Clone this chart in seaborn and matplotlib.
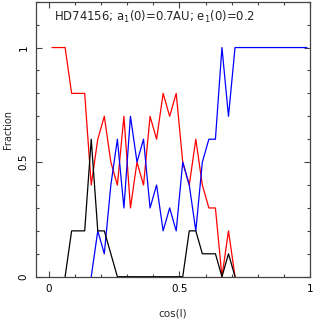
import numpy as np
import pandas as pd
import seaborn as sns
import matplotlib.pyplot as plt
from matplotlib.ticker import MultipleLocator

nan = np.nan

# bin centres in cos(I), 40 bins of width 0.025
cos_i = [0.0125 + 0.025 * k for k in range(40)]

# fraction of runs in each outcome (red / blue / black)
red = [1.0, 1.0, 1.0, 0.8, 0.8, 0.8, 0.4, 0.6, 0.7, 0.5,
       0.4, 0.7, 0.3, 0.5, 0.4, 0.7, 0.6, 0.8, 0.7, 0.8,
       0.5, 0.4, 0.6, 0.4, 0.3, 0.3, 0.0, 0.2, 0.0, nan,
       nan, nan, nan, nan, nan, nan, nan, nan, nan, nan]
blue = [nan, nan, nan, nan, nan, nan, 0.0, 0.2, 0.1, 0.4,
        0.6, 0.3, 0.7, 0.5, 0.6, 0.3, 0.4, 0.2, 0.3, 0.2,
        0.5, 0.4, 0.2, 0.5, 0.6, 0.6, 1.0, 0.7, 1.0, 1.0,
        1.0, 1.0, 1.0, 1.0, 1.0, 1.0, 1.0, 1.0, 1.0, 1.0]
black = [nan, nan, 0.0, 0.2, 0.2, 0.2, 0.6, 0.2, 0.2, 0.1,
         0.0, 0.0, 0.0, 0.0, 0.0, 0.0, 0.0, 0.0, 0.0, 0.0,
         0.0, 0.2, 0.2, 0.1, 0.1, 0.1, 0.0, 0.1, 0.0, nan,
         nan, nan, nan, nan, nan, nan, nan, nan, nan, nan]

title = "HD74156; a$_1$(0)=0.7AU; e$_1$(0)=0.2"

sns.set_style("ticks")
plt.rcParams["font.family"] = ["DejaVu Sans"]

fig = plt.figure(figsize=(3.13, 3.19), dpi=100)
ax = fig.add_axes([0.114, 0.1326, 0.877, 0.862])

df = pd.DataFrame({"x": cos_i, "red": red, "blue": blue, "black": black})
for col, c in [("red", "#ff0000"), ("blue", "#0000ff"), ("black", "black")]:
    sub = df[["x", col]].dropna()
    sns.lineplot(data=sub, x="x", y=col, color=c, lw=0.9, estimator=None, ax=ax)

ax.set_xlim(-0.05, 1.0)
ax.set_ylim(0, 1.2)
ax.xaxis.set_minor_locator(MultipleLocator(0.1))
ax.yaxis.set_minor_locator(MultipleLocator(0.1))
ax.set_xticks([0, 0.5, 1])
ax.set_xticklabels(["0", "0.5", "1"])
ax.set_yticks([0, 0.5, 1])
ax.set_yticklabels(["0", "0.5", "1"], rotation=90, va="center")

for s in ax.spines.values():
    s.set_visible(True)
    s.set_color("#444444")
    s.set_linewidth(0.9)
ax.tick_params(which="both", direction="in", top=True, right=True,
               colors="#444444", labelcolor="black", labelsize=7.5)
ax.tick_params(which="major", length=4, width=0.8, pad=5)
ax.tick_params(which="minor", length=2, width=0.8)

ax.set_xlabel("cos(I)", fontsize=7.5, labelpad=11)
ax.set_ylabel("Fraction", fontsize=7)
ax.yaxis.set_label_coords(-0.083, 0.537)
ax.text(0.067, 0.945, title, transform=ax.transAxes, fontsize=8.4,
        ha="left", va="center")

fig.savefig("out.png", dpi=100)
